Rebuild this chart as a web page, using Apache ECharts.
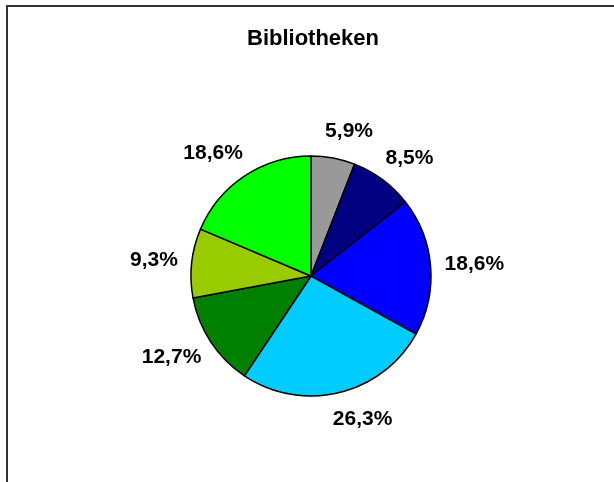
<!DOCTYPE html>
<html>
<head>
<meta charset="utf-8">
<script src="https://cdn.jsdelivr.net/npm/echarts@6/dist/echarts.min.js"></script>
<style>
  html, body { margin: 0; padding: 0; background: #fff; }
  #frame { position: absolute; left: 6px; top: 5px; right: -10px; bottom: -10px;
           border-top: 2px solid #333; border-left: 2px solid #333; }
  #chart { position: absolute; left: 0; top: 0; width: 614px; height: 482px; }
</style>
</head>
<body>
<div id="frame"></div>
<div id="chart"></div>
<script>
var titleText = 'Bibliotheken';
var shares = [5.9, 8.5, 18.6, 26.3, 12.7, 9.3, 18.6];
var sliceColors = ['#999999', '#000080', '#0000ff', '#00ccff', '#008000', '#99cc00', '#00ff00'];

var fontFamily = 'Liberation Sans, Arial, sans-serif';
var sliceData = shares.map(function(v, i) {
  return { value: v, name: 's' + i, itemStyle: { color: sliceColors[i] } };
});

var chart = echarts.init(document.getElementById('chart'), null, { renderer: 'canvas' });
chart.setOption({
  animation: false,
  title: {
    text: titleText,
    left: 308,
    top: 23,
    textAlign: 'center',
    textStyle: { fontFamily: fontFamily, fontSize: 22, fontWeight: 'bold', color: '#000' }
  },
  series: [{
    type: 'pie',
    center: [311, 276],
    radius: [0, 120],
    startAngle: 90,
    clockwise: true,
    silent: true,
    avoidLabelOverlap: false,
    data: sliceData,
    itemStyle: { borderColor: '#000', borderWidth: 1.5 },
    label: {
      show: true,
      position: 'outside',
      distanceToLabelLine: -13,
      color: '#000',
      fontFamily: fontFamily,
      fontSize: 21,
      fontWeight: 'bold',
      formatter: function(p) { return p.value.toFixed(1).replace('.', ',') + '%'; }
    },
    labelLine: { show: false, length: 27, length2: 0 }
  }]
});
</script>
</body>
</html>
